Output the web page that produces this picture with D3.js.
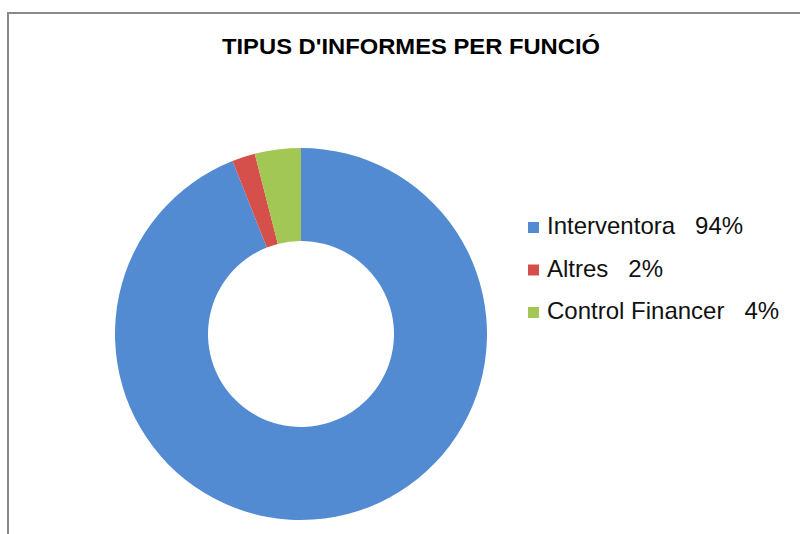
<!DOCTYPE html>
<html>
<head>
<meta charset="utf-8">
<script src="https://cdn.jsdelivr.net/npm/d3@7"></script>
<style>
  html, body { margin: 0; padding: 0; background: #ffffff; }
  svg { display: block; }
</style>
</head>
<body>
<svg id="chart" width="800" height="534"></svg>
<script>
const title = "TIPUS D'INFORMES PER FUNCIÓ";
const categories = ["Interventora", "Altres", "Control Financer"];
const values = [94, 2, 4];
const percentLabels = ["94%", "2%", "4%"];
const colors = ["#528BD2", "#D5504B", "#A2C754"];

const svg = d3.select("#chart");
const W = 800, H = 534;

// background
svg.append("rect").attr("x", 0).attr("y", 0).attr("width", W).attr("height", H).attr("fill", "#ffffff");
// chart frame (extends beyond right and bottom edges)
svg.append("rect")
  .attr("x", 8).attr("y", 13).attr("width", W + 20).attr("height", H + 20)
  .attr("fill", "#ffffff").attr("stroke", "#8a8a8a").attr("stroke-width", 2);

// title
svg.append("text")
  .attr("x", 411).attr("y", 54)
  .attr("text-anchor", "middle")
  .attr("font-family", "Liberation Sans, Arial, sans-serif")
  .attr("font-weight", "bold")
  .attr("font-size", 22)
  .attr("textLength", 378)
  .attr("lengthAdjust", "spacingAndGlyphs")
  .attr("fill", "#000")
  .text(title);

// donut
const cx = 301, cy = 334, rOuter = 186, rInner = 93;
const pie = d3.pie().sort(null).value(d => d);
const arc = d3.arc().innerRadius(rInner).outerRadius(rOuter);
const g = svg.append("g").attr("transform", `translate(${cx},${cy})`);
g.selectAll("path")
  .data(pie(values))
  .join("path")
  .attr("d", arc)
  .attr("fill", (d, i) => colors[i]);

// legend
const legX = 528, legY0 = 234, legStep = 42.5;
const color = d3.scaleOrdinal().domain(categories).range(colors);
const leg = svg.append("g");
const items = leg.selectAll("g")
  .data(categories)
  .join("g")
  .attr("transform", (d, i) => `translate(${legX},${legY0 + i * legStep})`);
items.append("rect")
  .attr("x", 0).attr("y", -12).attr("width", 11).attr("height", 11)
  .attr("fill", d => color(d));
items.append("text")
  .attr("x", 19).attr("y", 0)
  .attr("font-family", "Liberation Sans, Arial, sans-serif")
  .attr("font-size", 24)
  .attr("fill", "#111")
  .attr("xml:space", "preserve")
  .style("white-space", "pre")
  .text((d, i) => d + "   " + percentLabels[i]);
</script>
</body>
</html>
